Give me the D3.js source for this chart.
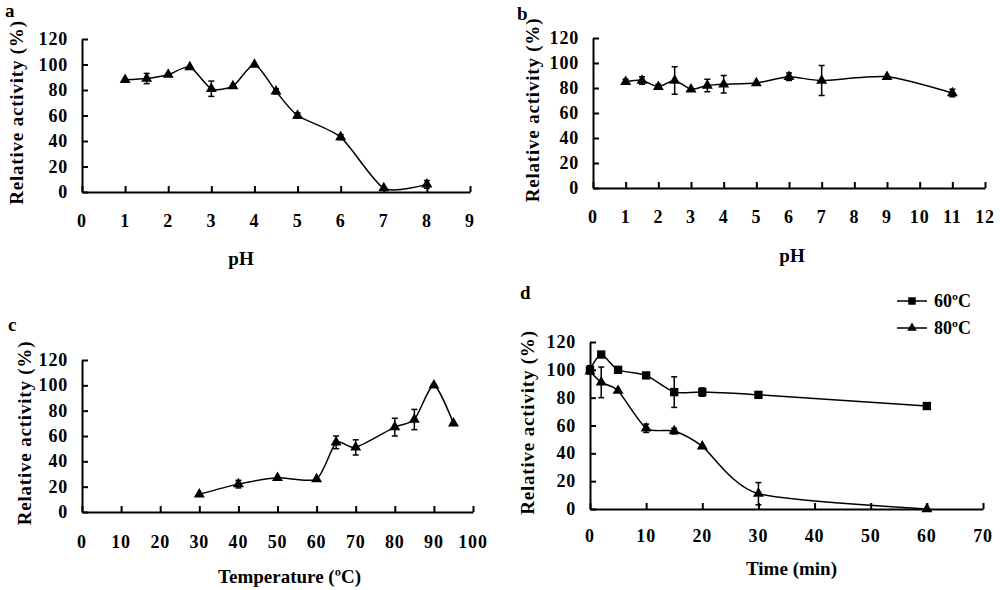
<!DOCTYPE html>
<html>
<head>
<meta charset="utf-8">
<script src="https://cdn.jsdelivr.net/npm/d3@7"></script>
<style>
  body { margin: 0; background: #fff; }
  svg text { font-family: "Liberation Serif", "Times New Roman", serif; font-weight: bold; fill: #000; }
</style>
</head>
<body>
<svg id="chart" width="1000" height="590"></svg>
<script>
// panel a: pH activity
const PH_A = [1, 1.5, 2, 2.5, 3, 3.5, 4, 4.5, 5, 6, 7, 8];
const ACT_A = [88, 89, 92, 98, 81, 83, 100, 79, 60, 43, 3, 6];
const ERR_A = [1, 4, 1, 1, 6, 1, 1, 2, 2, 2, 1, 3];

// panel b: pH stability
const PH_B = [1, 1.5, 2, 2.5, 3, 3.5, 4, 5, 6, 7, 9, 11];
const ACT_B = [85, 86, 81, 86, 79, 82, 83, 84, 89, 86, 89, 76];
const ERR_B = [2, 3, 2, 11, 1, 5, 7, 1, 3, 12, 1, 3];

// panel c: temperature activity
const TEMP_C = [30, 40, 50, 60, 65, 70, 80, 85, 90, 95];
const ACT_C = [14, 22, 27, 26, 55, 51, 67, 73, 100, 70];
const ERR_C = [1, 3, 1, 1, 5, 6, 7, 8, 1, 1];

// panel d: thermal stability
const TIME_D = [0, 2, 5, 10, 15, 20, 30, 60];
const ACT_60 = [100, 111, 100, 96, 84, 84, 82, 74];
const ERR_60 = [3, 1, 1, 1, 11, 3, 2, 2];
const TIME_80 = [0, 2, 5, 10, 15, 20, 30, 60];
const ACT_80 = [99, 91, 85, 58, 56, 45, 11, 0];
const ERR_80 = [1, 11, 1, 3, 2, 1, 8, 0];

const Y_TICKS = [0, 20, 40, 60, 80, 100, 120];
const TICK_FONT = 18;

const svg = d3.select("#chart");

function drawPanel(p) {
  const x = d3.scaleLinear().domain(p.xDomain).range([p.left, p.right]);
  const y = d3.scaleLinear().domain([0, 120]).range([p.bottom, p.top]);
  const g = svg.append("g");

  // axes, Excel style with inward ticks
  const xAxis = g.append("g").attr("transform", `translate(0,${p.bottom})`)
    .call(d3.axisTop(x).tickValues(p.xTicks).tickSize(6).tickSizeOuter(0).tickFormat(""));
  const yAxis = g.append("g").attr("transform", `translate(${p.left},0)`)
    .call(d3.axisRight(y).tickValues(Y_TICKS).tickSize(6).tickSizeOuter(0).tickFormat(""));
  [xAxis, yAxis].forEach(a => {
    a.select(".domain").attr("stroke", "#000").attr("stroke-width", 2);
    a.selectAll(".tick line").attr("stroke", "#000").attr("stroke-width", 2);
  });

  g.selectAll(".xl").data(p.xTicks).join("text")
    .attr("x", d => x(d)).attr("y", p.xLabelY)
    .attr("text-anchor", "middle").attr("font-size", TICK_FONT)
    .attr("letter-spacing", 0.8)
    .text(d => d);
  g.selectAll(".yl").data(Y_TICKS).join("text")
    .attr("x", p.left - 14).attr("y", d => y(d) + 6)
    .attr("text-anchor", "end").attr("font-size", TICK_FONT)
    .attr("letter-spacing", 0.8)
    .text(d => d);

  g.append("text").attr("x", (p.left + p.right) / 2 + (p.xTitleShift || 0)).attr("y", p.xTitleY)
    .attr("text-anchor", "middle").attr("font-size", 19).text(p.xTitle);
  g.append("text")
    .attr("transform", `translate(${p.yTitleX},${(p.top + p.bottom) / 2 - 3}) rotate(-90)`)
    .attr("text-anchor", "middle").attr("font-size", 19).attr("letter-spacing", 0.8)
    .text("Relative activity  (%)");

  g.append("text").attr("x", p.letterX).attr("y", p.letterY)
    .attr("font-size", 19).text(p.letter);

  const line = d3.line().x(d => x(d[0])).y(d => y(d[1]))
    .curve(d3.curveCardinal.tension(0.3));

  p.series.forEach(s => {
    const pts = s.xs.map((v, i) => [v, s.ys[i], s.errs[i]]);
    g.append("path").datum(pts).attr("d", line)
      .attr("fill", "none").attr("stroke", "#000").attr("stroke-width", 1.5);

    const eb = g.append("g").attr("stroke", "#000").attr("stroke-width", 1.5);
    pts.filter(d => d[2] > 1.5).forEach(d => {
      const cx = x(d[0]), y1 = y(d[1] + d[2]), y2 = y(d[1] - d[2]);
      eb.append("line").attr("x1", cx).attr("x2", cx).attr("y1", y1).attr("y2", y2);
      eb.append("line").attr("x1", cx - 3).attr("x2", cx + 3).attr("y1", y1).attr("y2", y1);
      eb.append("line").attr("x1", cx - 3).attr("x2", cx + 3).attr("y1", y2).attr("y2", y2);
    });

    const sym = d3.symbol().type(s.marker === "square" ? d3.symbolSquare : d3.symbolTriangle)
      .size(s.marker === "square" ? 70 : 52);
    g.selectAll(null).data(pts).join("path")
      .attr("transform", d => `translate(${x(d[0])},${y(d[1])})`)
      .attr("d", sym).attr("fill", "#000");
  });

  return { x, y, g };
}

drawPanel({
  letter: "a", letterX: 5, letterY: 17,
  left: 82, right: 470, top: 39, bottom: 192,
  xDomain: [0, 9], xTicks: d3.range(0, 10),
  xLabelY: 227, xTitle: "pH", xTitleY: 265, xTitleShift: -35, yTitleX: 23,
  series: [{ xs: PH_A, ys: ACT_A, errs: ERR_A, marker: "triangle" }]
});

drawPanel({
  letter: "b", letterX: 517, letterY: 20,
  left: 593, right: 985, top: 38, bottom: 188,
  xDomain: [0, 12], xTicks: d3.range(0, 13),
  xLabelY: 223, xTitle: "pH", xTitleY: 262, xTitleShift: 3, yTitleX: 539,
  series: [{ xs: PH_B, ys: ACT_B, errs: ERR_B, marker: "triangle" }]
});

drawPanel({
  letter: "c", letterX: 8, letterY: 331,
  left: 82, right: 473, top: 360, bottom: 512,
  xDomain: [0, 100], xTicks: d3.range(0, 101, 10),
  xLabelY: 548, xTitle: "Temperature (ºC)", xTitleY: 583, xTitleShift: 12, yTitleX: 31,
  series: [{ xs: TEMP_C, ys: ACT_C, errs: ERR_C, marker: "triangle" }]
});

drawPanel({
  letter: "d", letterX: 520, letterY: 299,
  left: 590, right: 983, top: 342, bottom: 509,
  xDomain: [0, 70], xTicks: d3.range(0, 71, 10),
  xLabelY: 542, xTitle: "Time (min)", xTitleY: 575, xTitleShift: 5, yTitleX: 534,
  series: [
    { xs: TIME_D, ys: ACT_60, errs: ERR_60, marker: "square" },
    { xs: TIME_80, ys: ACT_80, errs: ERR_80, marker: "triangle" }
  ]
});

// legend for panel d
const LEGEND = [{ label: "60ºC", marker: "square", y: 301 }, { label: "80ºC", marker: "triangle", y: 328 }];
const lg = svg.append("g");
LEGEND.forEach(l => {
  lg.append("line").attr("x1", 897).attr("x2", 927).attr("y1", l.y).attr("y2", l.y)
    .attr("stroke", "#000").attr("stroke-width", 1.5);
  lg.append("path").attr("transform", `translate(912,${l.y})`)
    .attr("d", d3.symbol().type(l.marker === "square" ? d3.symbolSquare : d3.symbolTriangle)
      .size(l.marker === "square" ? 56 : 40))
    .attr("fill", "#000");
  lg.append("text").attr("x", 934).attr("y", l.y + 6).attr("font-size", 18).text(l.label);
});
</script>
</body>
</html>
